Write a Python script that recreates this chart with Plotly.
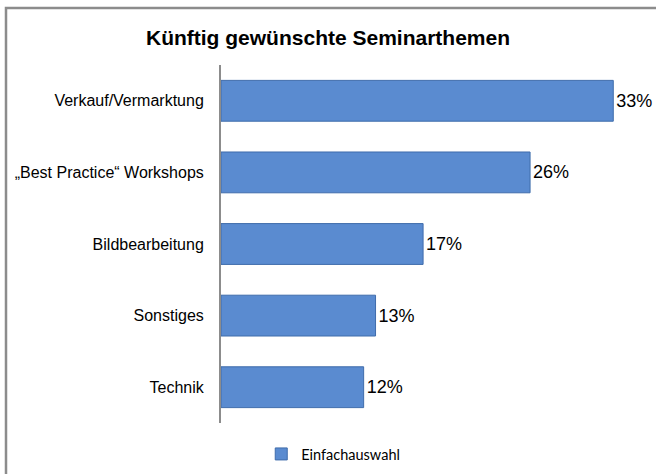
"""
Horizontal bar chart: Künftig gewünschte Seminarthemen.
"""
import plotly.graph_objects as go

TITLE = "Künftig gewünschte Seminarthemen"
SERIES_NAME = "Einfachauswahl"

topics = [
    "Verkauf/Vermarktung",
    "„Best Practice“ Workshops",
    "Bildbearbeitung",
    "Sonstiges",
    "Technik",
]
shares = [33, 26, 17, 13, 12]
share_labels = ["33%", "26%", "17%", "13%", "12%"]

BAR_FILL = "#5a8bd0"
BAR_EDGE = "#3f6cab"
GREY = "#8c8c8c"

W, H = 656, 474
# plot area in pixels
L, R, T, B = 221, 643, 65, 423


def px_to_paper_x(px):
    return (px - L) / (R - L)


def px_to_paper_y(py):
    return (B - py) / (B - T)


fig = go.Figure()
fig.add_trace(go.Bar(
    x=shares,
    y=topics,
    orientation="h",
    name=SERIES_NAME,
    text=share_labels,
    textposition="outside",
    textfont=dict(family="Arial, Liberation Sans, sans-serif", size=18, color="#000000"),
    cliponaxis=False,
    marker=dict(color=BAR_FILL, line=dict(color=BAR_EDGE, width=1)),
    showlegend=True,
))

fig.update_layout(
    width=W,
    height=H,
    margin=dict(l=L, r=W - R, t=T, b=H - B),
    paper_bgcolor="white",
    plot_bgcolor="white",
    font=dict(family="Arial, Liberation Sans, sans-serif", color="#000000"),
    bargap=0.43,
    title=dict(
        text=f"<b>{TITLE}</b>",
        x=0.5, xref="container", xanchor="center",
        y=1 - 38 / H, yref="container", yanchor="middle",
        font=dict(size=21, color="#000000"),
    ),
    xaxis=dict(
        range=[0, 35.5],
        visible=False,
        showgrid=False,
        zeroline=False,
    ),
    yaxis=dict(
        autorange="reversed",
        showline=True,
        linecolor=GREY,
        linewidth=2,
        ticks="",
        ticklabelstandoff=12,
        tickfont=dict(size=16, color="#000000"),
        showgrid=False,
    ),
    legend=dict(
        orientation="h",
        x=0.508, xref="container", xanchor="center",
        y=1 - 454 / H, yref="container", yanchor="middle",
        font=dict(family="Lato, sans-serif", size=14.5, color="#000000"),
        itemwidth=30,
    ),
    shapes=[dict(
        type="rect",
        xref="paper", yref="paper",
        x0=px_to_paper_x(6), x1=px_to_paper_x(664),
        y0=px_to_paper_y(482), y1=px_to_paper_y(8),
        line=dict(color=GREY, width=2.5),
        fillcolor="rgba(0,0,0,0)",
        layer="above",
    )],
)

fig.write_html(
    "out.html",
    config={"displayModeBar": False},
    post_script="document.body.style.margin='0';",
)
